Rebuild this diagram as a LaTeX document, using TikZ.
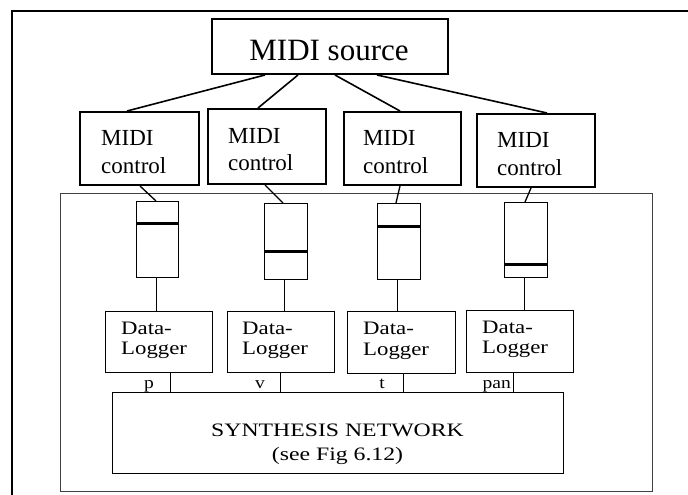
\documentclass[tikz,border=0pt]{standalone}
\usepackage{fontspec}
\setmainfont{Liberation Serif}
\begin{document}
\begin{tikzpicture}[x=1pt,y=-1pt,
  heavybox/.style={draw, line width=2pt, inner sep=0pt, anchor=north west},
  lightbox/.style={draw, line width=1pt, inner sep=0pt, anchor=north west},
  heavylink/.style={line width=1.6pt},
  midlink/.style={line width=1.3pt},
  lightlink/.style={line width=1pt},
  knob/.style={line width=3pt},
  srcfont/.style={font=\fontsize{31}{37}\selectfont, inner sep=0pt, anchor=base},
  ctrlfont/.style={font=\fontsize{23}{28}\selectfont, inner sep=0pt, anchor=base west},
  logfont/.style={font=\fontsize{19}{22}\selectfont, inner sep=0pt, anchor=base west},
  synfont/.style={font=\fontsize{19}{22}\selectfont, inner sep=0pt, anchor=base},
  tagfont/.style={font=\fontsize{17}{20}\selectfont, inner sep=0pt, anchor=base east}]
\useasboundingbox (0,0) rectangle (688,495);

% outer frame (open to the right and bottom)
\draw[line width=2pt] (12,495) -- (12,11) -- (688,11);

% panel holding the faders, loggers and synthesis network
\node[lightbox, draw=black!75, minimum width=592, minimum height=298] (panel) at (60,193) {};

% MIDI source
\node[heavybox, minimum width=236, minimum height=55] (src) at (211,18) {};
\node[srcfont] (srct) at (329,60) {MIDI source};

% MIDI control boxes
\node[heavybox, minimum width=119, minimum height=73] (c1) at (79,111) {};
\node[heavybox, minimum width=118, minimum height=75] (c2) at (207,108) {};
\node[heavybox, minimum width=117, minimum height=73] (c3) at (343,111) {};
\node[heavybox, minimum width=118, minimum height=73] (c4) at (476,113) {};
\node[ctrlfont] (c1a) at (101,145) {MIDI};
\node[ctrlfont] (c1b) at (101,173) {control};
\node[ctrlfont] (c2a) at (228,143) {MIDI};
\node[ctrlfont] (c2b) at (228,170) {control};
\node[ctrlfont] (c3a) at (363,145) {MIDI};
\node[ctrlfont] (c3b) at (363,173) {control};
\node[ctrlfont] (c4a) at (497,147) {MIDI};
\node[ctrlfont] (c4b) at (497,175) {control};

% faders
\node[lightbox, minimum width=42, minimum height=76] (s1) at (136,201) {};
\node[lightbox, minimum width=43, minimum height=76] (s2) at (264,203) {};
\node[lightbox, minimum width=43, minimum height=76] (s3) at (377,203) {};
\node[lightbox, minimum width=43, minimum height=75] (s4) at (504,202) {};
\draw[knob] (s1.west |- 0,223) -- (s1.east |- 0,223);
\draw[knob] (s2.west |- 0,251) -- (s2.east |- 0,251);
\draw[knob] (s3.west |- 0,226) -- (s3.east |- 0,226);
\draw[knob] (s4.west |- 0,264) -- (s4.east |- 0,264);

% data loggers
\node[lightbox, minimum width=107, minimum height=61] (d1) at (105,311) {};
\node[lightbox, minimum width=107, minimum height=61] (d2) at (227,311) {};
\node[lightbox, minimum width=108, minimum height=62] (d3) at (347,311) {};
\node[lightbox, minimum width=107, minimum height=62] (d4) at (466,310) {};
\node[logfont] (d1a) at (121,334) {\scalebox{1.2}[1]{Data-}};
\node[logfont] (d1b) at (121,354) {\scalebox{1.2}[1]{Logger}};
\node[logfont] (d2a) at (242,334) {\scalebox{1.2}[1]{Data-}};
\node[logfont] (d2b) at (242,354) {\scalebox{1.2}[1]{Logger}};
\node[logfont] (d3a) at (363,334) {\scalebox{1.2}[1]{Data-}};
\node[logfont] (d3b) at (363,355) {\scalebox{1.2}[1]{Logger}};
\node[logfont] (d4a) at (482,333) {\scalebox{1.2}[1]{Data-}};
\node[logfont] (d4b) at (482,353) {\scalebox{1.2}[1]{Logger}};

% synthesis network
\node[lightbox, minimum width=451, minimum height=81] (syn) at (112,392) {};
\node[synfont] (syna) at (337.5,436) {\scalebox{1.25}[1]{SYNTHESIS NETWORK}};
\node[synfont] (synb) at (337.5,460) {\scalebox{1.25}[1]{(see Fig 6.12)}};

% source to control links
\draw[heavylink] (265,0 |- src.south) -- (127,0 |- c1.north);
\draw[heavylink] (298,0 |- src.south) -- (258,0 |- c2.north);
\draw[heavylink] (335,0 |- src.south) -- (400,0 |- c3.north);
\draw[heavylink] (377,0 |- src.south) -- (547,0 |- c4.north);

% control to fader links
\draw[midlink] (140,0 |- c1.south) -- (156,0 |- s1.north);
\draw[midlink] (265,0 |- c2.south) -- (283,0 |- s2.north);
\draw[midlink] (400,0 |- c3.south) -- (396,0 |- s3.north);
\draw[midlink] (531,0 |- c4.south) -- (525,0 |- s4.north);

% fader to logger links
\draw[lightlink] (156,0 |- s1.south) -- (156,0 |- d1.north);
\draw[lightlink] (284,0 |- s2.south) -- (284,0 |- d2.north);
\draw[lightlink] (397,0 |- s3.south) -- (397,0 |- d3.north);
\draw[lightlink] (524,0 |- s4.south) -- (524,0 |- d4.north);

% logger to synthesis links with parameter tags
\draw[lightlink] (170,0 |- d1.south) -- (170,0 |- syn.north);
\draw[lightlink] (280,0 |- d2.south) -- (280,0 |- syn.north);
\draw[lightlink] (403,0 |- d3.south) -- (403,0 |- syn.north);
\draw[lightlink] (513,0 |- d4.south) -- (513,0 |- syn.north);
\node[tagfont] (tp) at (154,388) {\scalebox{1.15}[1]{p}};
\node[tagfont] (tv) at (265,388) {\scalebox{1.15}[1]{v}};
\node[tagfont] (tt) at (385,388) {\scalebox{1.15}[1]{t}};
\node[tagfont] (tpan) at (511,388) {\scalebox{1.15}[1]{pan}};
\end{tikzpicture}
\end{document}
